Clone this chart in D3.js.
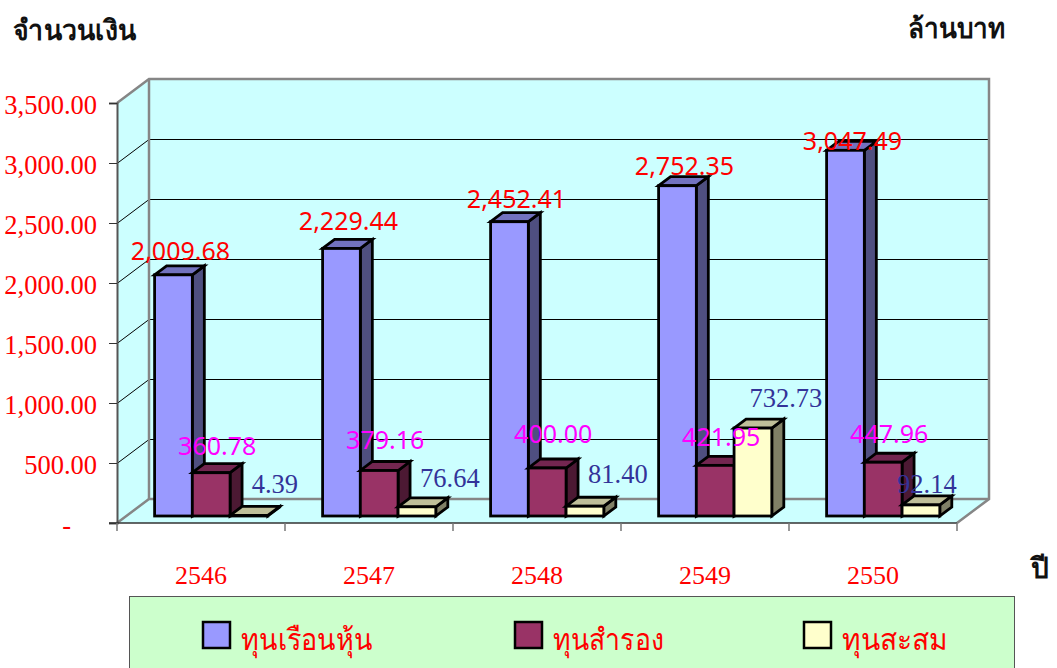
<!DOCTYPE html>
<html>
<head>
<meta charset="utf-8">
<script src="https://cdnjs.cloudflare.com/ajax/libs/d3/7.8.5/d3.min.js"></script>
<style>
  html, body { margin: 0; padding: 0; background: #fff; }
  svg { display: block; }
</style>
</head>
<body>
<script>
  var years = ['2546', '2547', '2548', '2549', '2550'];
  var seriesNames = ['ทุนเรือนหุ้น', 'ทุนสำรอง', 'ทุนสะสม'];
  var shareCapital = [2009.68, 2229.44, 2452.41, 2752.35, 3047.49];
  var reserve = [360.78, 379.16, 400.00, 421.95, 447.96];
  var accumulated = [4.39, 76.64, 81.40, 732.73, 92.14];
  var yTicks = [0, 500, 1000, 1500, 2000, 2500, 3000, 3500];

  var width = 1057, height = 668;
  var left = 117, right = 957, bottom = 523, top_ = 103;
  var depthX = 32, depthY = -24;      // wall depth
  var barDX = 12, barDY = -9;         // bar depth
  var floorDY = -7;                   // where bars stand on the floor
  var serif = '"Liberation Serif", serif';

  var faces = [
    {front: '#9999ff', top: '#7272bf', side: '#4f4f80', label: '#ff0000', font: '"Noto Sans", sans-serif', size: 25},
    {front: '#993366', top: '#732650', side: '#4c1933', label: '#ff00ff', font: '"Noto Sans", sans-serif', size: 25},
    {front: '#ffffcc', top: '#bfbf99', side: '#808066', label: '#333399', font: serif, size: 26.5}
  ];
  // labels were hand placed in the original, offsets from bar top / bar centre
  var labelRise = [
    [15, 18, 14, 11, 0],
    [18, 21.5, 25, 19, 19],
    [22, 20, 23, 21, 12]
  ];
  var labelShift = [
    [7, 7, 7, 7, 7],
    [6, 6, 6, 6, 6],
    [26, 33, 33, 33, 6]
  ];

  var svg = d3.select('body').append('svg').attr('width', width).attr('height', height);

  var x = d3.scaleBand().domain(years).range([left, right]);
  var y = d3.scaleLinear().domain([0, 3500]).range([bottom, top_]);
  var s = d3.scaleBand().domain(d3.range(3)).range([37.6, 37.6 + 113.2]);

  function poly(pts) { return pts.map(function (p) { return p.join(','); }).join(' '); }

  var wall = svg.append('g');
  // back wall, side wall, floor
  wall.append('polygon').attr('points', poly([[left + depthX, y(3500) + depthY], [right + depthX, y(3500) + depthY], [right + depthX, y(0) + depthY], [left + depthX, y(0) + depthY]]))
    .attr('fill', '#ccffff');
  wall.append('polygon').attr('points', poly([[left, y(0)], [left, y(3500)], [left + depthX, y(3500) + depthY], [left + depthX, y(0) + depthY]]))
    .attr('fill', '#ccffff');
  wall.append('polygon').attr('points', poly([[left, y(0)], [right, y(0)], [right + depthX, y(0) + depthY], [left + depthX, y(0) + depthY]]))
    .attr('fill', '#ccffff');

  // gridlines
  yTicks.slice(1, -1).forEach(function (t) {
    wall.append('polyline')
      .attr('points', poly([[left, y(t) + 0.5], [left + depthX, y(t) + depthY + 0.5], [right + depthX, y(t) + depthY + 0.5]]))
      .attr('fill', 'none').attr('stroke', '#000').attr('stroke-width', 1);
  });

  // wall edges
  wall.append('polyline')
    .attr('points', poly([[left, y(3500)], [left + depthX, y(3500) + depthY], [right + depthX, y(3500) + depthY], [right + depthX, y(0) + depthY], [right, y(0)]]))
    .attr('fill', 'none').attr('stroke', '#868686').attr('stroke-width', 2.5);
  wall.append('polyline')
    .attr('points', poly([[left, y(0)], [left + depthX, y(0) + depthY], [right + depthX, y(0) + depthY]]))
    .attr('fill', 'none').attr('stroke', '#868686').attr('stroke-width', 2.5);
  wall.append('line')
    .attr('x1', left + depthX).attr('x2', left + depthX).attr('y1', y(0) + depthY).attr('y2', y(3500) + depthY)
    .attr('stroke', '#868686').attr('stroke-width', 2.5);

  // y axis
  var yAxis = d3.axisLeft(y).tickValues(yTicks).tickSize(8).tickPadding(12)
    .tickFormat(function (d) { return d === 0 ? '-' : d3.format(',.2f')(d); });
  var yG = svg.append('g').attr('transform', 'translate(' + left + ',0)').call(yAxis);
  yG.select('.domain').attr('stroke', '#555').attr('stroke-width', 2);
  yG.selectAll('.tick line').attr('stroke', '#333');
  yG.selectAll('text').attr('fill', '#ff0000').attr('font-size', 26.5).attr('font-family', serif)
    .attr('dy', '0.4em');
  yG.selectAll('.tick text').filter(function (d) { return d === 0; }).attr('dx', -26);

  // x axis, labels only; ticks sit between the bands
  var xAxis = d3.axisBottom(x).tickSize(0).tickPadding(43);
  var xG = svg.append('g').attr('transform', 'translate(0,' + bottom + ')').call(xAxis);
  xG.select('.domain').remove();
  xG.selectAll('text').attr('fill', '#ff0000').attr('font-size', 26).attr('font-family', serif);

  svg.append('line').attr('x1', left - 8).attr('x2', right).attr('y1', bottom).attr('y2', bottom)
    .attr('stroke', '#333').attr('stroke-width', 1.5);
  svg.selectAll('.xtick').data(d3.range(years.length + 1)).enter().append('line')
    .attr('class', 'xtick')
    .attr('x1', function (i) { return left + i * x.bandwidth(); })
    .attr('x2', function (i) { return left + i * x.bandwidth(); })
    .attr('y1', bottom).attr('y2', bottom + 8)
    .attr('stroke', '#777').attr('stroke-width', 1.5);

  // bars
  var allSeries = [shareCapital, reserve, accumulated];
  var barsG = svg.append('g');
  var base = y(0) + floorDY;

  years.forEach(function (yr, j) {
    allSeries.forEach(function (vals, k) {
      var v = vals[j], f = faces[k];
      var x0 = x(yr) + s(k), x1 = x0 + s.bandwidth();
      var yt = y(v) + floorDY;
      var g = barsG.append('g').attr('stroke', '#000').attr('stroke-width', 2.8).attr('stroke-linejoin', 'miter');
      g.append('polygon').attr('fill', f.side)
        .attr('points', poly([[x1, base], [x1, yt], [x1 + barDX, yt + barDY], [x1 + barDX, base + barDY]]));
      g.append('polygon').attr('fill', f.top)
        .attr('points', poly([[x0, yt], [x1, yt], [x1 + barDX, yt + barDY], [x0 + barDX, yt + barDY]]));
      g.append('rect').attr('fill', f.front)
        .attr('x', x0).attr('y', yt).attr('width', x1 - x0).attr('height', base - yt);
    });
  });

  // data labels
  years.forEach(function (yr, j) {
    allSeries.forEach(function (vals, k) {
      var f = faces[k];
      svg.append('text')
        .attr('x', x(yr) + s(k) + s.bandwidth() / 2 + labelShift[k][j])
        .attr('y', y(vals[j]) + floorDY - labelRise[k][j])
        .attr('text-anchor', 'middle')
        .attr('font-family', f.font).attr('font-size', f.size).attr('fill', f.label)
        .text(d3.format(',.2f')(vals[j]));
    });
  });

  // titles
  svg.append('text').attr('x', 13).attr('y', 40).attr('font-family', serif)
    .attr('font-weight', 'bold').attr('font-size', 28).attr('fill', '#111')
    .attr('textLength', 123).attr('lengthAdjust', 'spacingAndGlyphs').text('จำนวนเงิน');
  svg.append('text').attr('x', 908).attr('y', 38).attr('font-family', serif)
    .attr('font-weight', 'bold').attr('font-size', 28).attr('fill', '#111')
    .attr('textLength', 97).attr('lengthAdjust', 'spacingAndGlyphs').text('ล้านบาท');
  svg.append('text').attr('x', 1031).attr('y', 578).attr('font-family', serif)
    .attr('font-weight', 'bold').attr('font-size', 28).attr('fill', '#111').text('ปี');

  // legend
  var legendX = [203, 515, 804];
  var legendW = [132, 111, 106];
  svg.append('rect').attr('x', 129.5).attr('y', 596.5).attr('width', 885).attr('height', 80)
    .attr('fill', '#ccffcc').attr('stroke', '#555').attr('stroke-width', 1);
  seriesNames.forEach(function (name, k) {
    svg.append('rect').attr('x', legendX[k]).attr('y', 622).attr('width', 27).attr('height', 26)
      .attr('fill', faces[k].front).attr('stroke', '#000').attr('stroke-width', 2.5);
    svg.append('text').attr('x', legendX[k] + 38).attr('y', 650)
      .attr('font-family', serif).attr('font-size', 30).attr('fill', '#ff0000')
      .attr('textLength', legendW[k]).attr('lengthAdjust', 'spacingAndGlyphs').text(name);
  });
</script>
</body>
</html>
